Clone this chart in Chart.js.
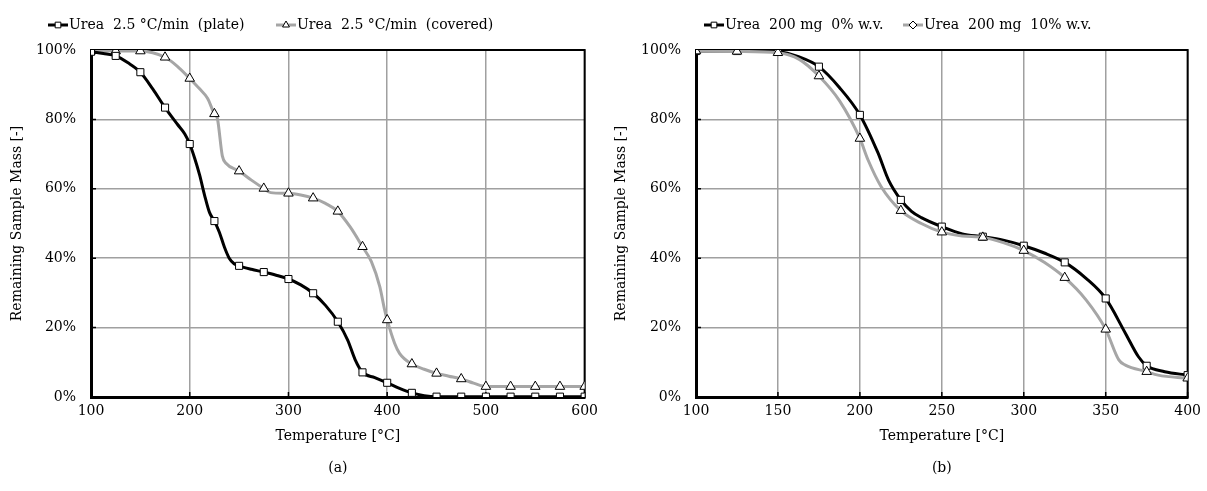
<!DOCTYPE html>
<html>
<head>
<meta charset="utf-8">
<script src="https://cdn.jsdelivr.net/npm/chart.js@4"></script>
<style>
  body { margin: 0; background: #fff; }
  #wrap { position: relative; width: 1207px; height: 491px; }
  canvas { position: absolute; top: 0; }
  #chartA { left: 0; }
  #chartB { left: 604px; }
</style>
</head>
<body>
<div id="wrap">
  <canvas id="chartA" width="604" height="491"></canvas>
  <canvas id="chartB" width="603" height="491"></canvas>
</div>
<script>
// (a) heating rate 2.5 °C/min, plate vs covered
const plateT = [100, 112.5, 125, 137.5, 150, 162.5, 175, 187.5, 195, 200, 205, 210, 215, 220, 225, 230, 235, 240, 245, 250, 262.5, 275, 287.5, 300, 312.5, 325, 337.5, 350, 360, 367.5, 375, 387.5, 400, 412.5, 425, 437.5, 450, 475, 500, 525, 550, 575, 600];
const plateMass = [99.5, 99.0, 98.3, 96.3, 93.6, 88.8, 83.4, 78.6, 75.8, 72.9, 68.8, 64.0, 58.2, 53.2, 50.7, 47.5, 43.3, 40.0, 38.4, 37.8, 36.8, 36.0, 35.1, 34.0, 32.3, 29.9, 26.4, 21.7, 16.4, 10.8, 7.1, 5.6, 4.1, 2.5, 1.2, 0.4, 0.1, 0.1, 0.1, 0.1, 0.1, 0.1, 0.1];
const coveredT = [100, 125, 150, 162.5, 175, 187.5, 200, 210, 218, 225, 228, 233, 237, 250, 262.5, 275, 282, 300, 312.5, 325, 337.5, 350, 362.5, 375, 384, 392.5, 397.5, 400, 407.5, 412.5, 425, 437.5, 450, 462.5, 475, 487.5, 500, 525, 550, 575, 600];
const coveredMass = [99.7, 99.7, 99.7, 99.2, 97.9, 95.3, 91.8, 88.8, 86.1, 81.6, 80.3, 69.5, 67.3, 65.1, 62.5, 60.1, 58.9, 58.7, 58.2, 57.3, 55.8, 53.5, 49.0, 43.3, 39.0, 31.8, 25.0, 22.2, 15.5, 12.6, 9.5, 8.0, 6.8, 6.0, 5.2, 4.0, 3.0, 3.0, 3.0, 3.0, 3.0];

// (b) 200 mg, 0% vs 10% w.v.
const dryT = [100, 125, 150, 163, 175, 187.5, 200, 211, 217.5, 225, 231.5, 237.5, 250, 262.5, 275, 287.5, 300, 312.5, 325, 338, 350, 362, 370, 375, 386, 400];
const dryMass = [99.7, 99.7, 99.5, 98.0, 95.2, 89.2, 81.3, 70.4, 62.5, 56.8, 53.5, 51.7, 49.1, 47.0, 46.2, 45.2, 43.6, 41.5, 38.8, 34.2, 28.4, 18.4, 11.6, 9.0, 7.3, 6.3];
const wetT = [100, 125, 150, 163, 175, 187.5, 200, 205, 213, 225, 237.5, 250, 262.5, 275, 287.5, 300, 312.5, 325, 338, 350, 358, 362, 375, 382, 400];
const wetMass = [99.7, 99.6, 99.2, 97.3, 92.5, 85.4, 74.5, 68.3, 60.6, 53.7, 50.0, 47.5, 46.4, 46.0, 44.5, 42.2, 38.8, 34.4, 28.0, 19.5, 10.7, 9.2, 7.3, 6.3, 5.4];

const legendA = ['Urea  2.5 °C/min  (plate)', 'Urea  2.5 °C/min  (covered)'];
const legendB = ['Urea  200 mg  0% w.v.', 'Urea  200 mg  10% w.v.'];
const massTicks = [0, 20, 40, 60, 80, 100];
const markerStep = 25;

const FONT = 'DejaVu Serif';
Chart.defaults.font.family = FONT;
Chart.defaults.font.size = 14;
Chart.defaults.color = '#000';

function pts(xs, ys) {
  return xs.map((x, i) => ({ x: x, y: ys[i] }));
}

function series(xs, ys, color, style, size, order) {
  return {
    data: pts(xs, ys),
    borderColor: color,
    borderWidth: 3,
    cubicInterpolationMode: 'monotone',
    pointStyle: style,
    pointBackgroundColor: '#fff',
    pointBorderColor: '#000',
    pointBorderWidth: 1,
    pointRadius: ctx => (ctx.raw && ctx.raw.x % markerStep === 0) ? size : 0,
    order: order
  };
}

// frame, inner ticks, legend and caption
const frame = {
  id: 'frame',
  beforeDatasetsDraw(chart) {
    const { ctx, chartArea: a, scales: { x, y } } = chart;
    ctx.save();
    ctx.strokeStyle = '#000';
    ctx.lineWidth = 2;
    ctx.strokeRect(a.left, a.top, a.right - a.left, a.bottom - a.top);
    ctx.lineWidth = 1.5;
    ctx.beginPath();
    x.ticks.forEach(t => {
      const px = x.getPixelForValue(t.value);
      ctx.moveTo(px, a.bottom);
      ctx.lineTo(px, a.bottom - 5);
    });
    y.ticks.forEach(t => {
      const py = y.getPixelForValue(t.value);
      ctx.moveTo(a.left, py);
      ctx.lineTo(a.left + 5, py);
    });
    ctx.stroke();
    ctx.restore();
  },
  afterDraw(chart, args, opts) {
    const { ctx, chartArea: a } = chart;
    ctx.save();
    ctx.font = '14px "' + FONT + '"';
    ctx.textBaseline = 'middle';
    chart.data.datasets.forEach((ds, i) => {
      const lx = opts.legendX[i];
      const ly = 25;
      ctx.strokeStyle = ds.borderColor;
      ctx.lineWidth = 3;
      ctx.beginPath();
      ctx.moveTo(lx, ly);
      ctx.lineTo(lx + 20, ly);
      ctx.stroke();
      ctx.fillStyle = '#fff';
      ctx.strokeStyle = '#000';
      ctx.lineWidth = 1;
      Chart.helpers.drawPoint(ctx, {
        pointStyle: opts.legendStyle[i],
        radius: 4,
        borderWidth: 1
      }, lx + 10, ly);
      ctx.fillStyle = '#000';
      ctx.textAlign = 'left';
      ctx.fillText(opts.labels[i], lx + 21, ly);
    });
    ctx.textAlign = 'center';
    ctx.fillText(opts.caption, (a.left + a.right) / 2, 468);
    ctx.restore();
  }
};

function makeChart(id, datasets, xMax, xStep, yWidth, padRight, legendX, labels, legendStyle, caption) {
  return new Chart(document.getElementById(id), {
    type: 'line',
    data: { datasets: datasets },
    options: {
      responsive: false,
      animation: false,
      events: [],
      layout: { padding: { top: 50, right: padRight, left: 0, bottom: 0 } },
      plugins: {
        legend: { display: false },
        tooltip: { enabled: false },
        frame: { legendX: legendX, labels: labels, legendStyle: legendStyle, caption: caption }
      },
      scales: {
        x: {
          type: 'linear',
          min: 100,
          max: xMax,
          ticks: { stepSize: xStep, padding: 6 },
          grid: { color: '#a0a0a0', lineWidth: 1.5, drawTicks: false },
          border: { color: '#000', width: 3 },
          title: { display: true, text: 'Temperature [°C]', padding: { bottom: 46 } },
          afterFit: s => { s.height = 94; }
        },
        y: {
          min: 0,
          max: 100,
          afterBuildTicks: s => { s.ticks = massTicks.map(v => ({ value: v })); },
          ticks: { padding: 15, callback: v => v + '%' },
          grid: { color: '#a0a0a0', lineWidth: 1.5, drawTicks: false },
          border: { color: '#000', width: 3 },
          title: { display: true, text: 'Remaining Sample Mass [-]', padding: { top: 9 } },
          afterFit: s => { s.width = yWidth; }
        }
      }
    },
    plugins: [frame]
  });
}

makeChart('chartA', [
  series(plateT, plateMass, '#000', 'rect', 5, 0),
  series(coveredT, coveredMass, '#a6a6a6', 'triangle', 5.5, 1)
], 600, 100, 91, 16, [48, 276], legendA, ['rect', 'triangle'], '(a)');

makeChart('chartB', [
  series(dryT, dryMass, '#000', 'rect', 5, 1),
  series(wetT, wetMass, '#a6a6a6', 'triangle', 5.5, 0)
], 400, 50, 92, 14, [100, 299], legendB, ['rect', 'rectRot'], '(b)');
</script>
</body>
</html>
